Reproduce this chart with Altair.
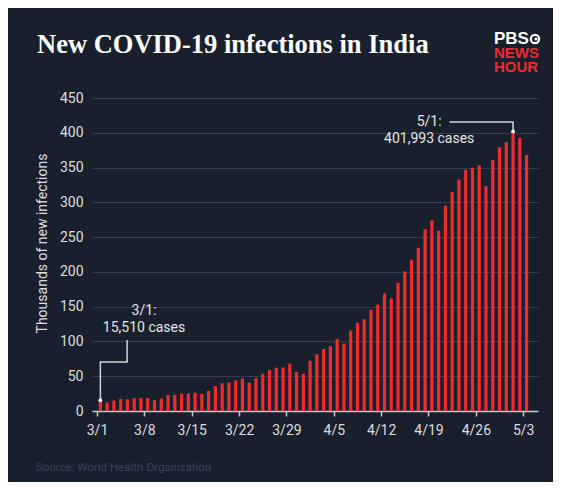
import altair as alt
import pandas as pd

# Daily new infections in India (thousands), 3/1 .. 5/3
values = [15.51, 12.29, 14.99, 17.41, 16.84, 18.33, 18.71, 18.60, 15.39, 17.92,
          22.85, 23.29, 24.88, 25.32, 26.29, 24.49, 28.90, 35.87, 39.73, 40.95,
          43.85, 46.95, 40.72, 47.26, 53.48, 59.12, 62.26, 62.71, 68.02, 56.21, 53.48,
          72.33, 81.47, 89.13, 93.25, 103.56, 96.98, 115.74, 126.79, 131.97, 145.38,
          152.88, 168.91, 161.74, 184.37, 200.74, 217.35, 234.69, 261.50, 273.81, 259.17,
          295.04, 314.84, 332.73, 346.79, 349.69, 352.99, 323.14, 360.96, 379.26, 386.45,
          401.99, 392.49, 368.15]
tick_days = [0, 7, 14, 21, 28, 35, 42, 49, 56, 63]
tick_labels = ["3/1", "3/8", "3/15", "3/22", "3/29", "4/5", "4/12", "4/19", "4/26", "5/3"]
y_ticks = [0, 50, 100, 150, 200, 250, 300, 350, 400, 450]

# annotations (data coordinates)
ann_days = [0, 61]
ann_vals = [15.51, 401.99]
ann_text_x = [6.95, 6.95, 49.1, 49.1]
ann_text_y = [144, 119, 415.4, 390.6]
ann_text = ["3/1:", "15,510 cases", "5/1:", "401,993 cases"]
lead_g = ["a", "a", "a", "a", "b", "b", "b"]
lead_x = [0.5, 0.5, 4.45, 4.45, 52.1, 61.5, 61.5]
lead_y = [15.51, 70.4, 70.4, 102, 415.4, 415.4, 402]

BG = "#18202e"
RED = "#ef2b2d"
FG = "#dedede"
FONT = "Roboto"

df = pd.DataFrame({"d": [i + 0.5 for i in range(len(values))], "v": values})
dots = pd.DataFrame({"d": [d + 0.5 for d in ann_days], "v": ann_vals})
texts = pd.DataFrame({"d": ann_text_x, "v": ann_text_y, "t": ann_text})
leads = pd.DataFrame({"g": lead_g, "o": list(range(len(lead_g))), "d": lead_x, "v": lead_y})

label_expr = "[" + ",".join("'" + s + "'" for s in tick_labels) + "][round(datum.value/7)]"

xs = alt.Scale(domain=[0, 64.45], nice=False, zero=False)
ys = alt.Scale(domain=[0, 450], nice=False)
xaxis = alt.Axis(
    values=tick_days, labelExpr=label_expr, title=None, grid=False,
    domainColor="#c9c9c9", domainWidth=1.5, tickColor="#c9c9c9", tickWidth=1.5,
    tickSize=5, labelPadding=7, labelColor=FG, labelFontSize=14, labelFont=FONT)
yaxis = alt.Axis(
    values=y_ticks, title="Thousands of new infections", domain=False, ticks=False,
    gridColor="#363e4d", gridWidth=1, labelPadding=9, labelColor=FG,
    labelFontSize=14, labelFont=FONT, titleColor=FG, titleFontSize=14,
    titleFont=FONT, titleFontWeight="normal", titlePadding=10, titleY=145,
    labelOverlap=False)
X = alt.X("d:Q", scale=xs, axis=xaxis)
Y = alt.Y("v:Q", scale=ys, axis=yaxis)

bars = alt.Chart(df).mark_bar(color=RED, size=3.2).encode(x=X, y=Y)

lines = alt.Chart(leads).mark_line(color="#d4d4d4", strokeWidth=1.5).encode(
    x=X, y=Y, detail="g:N", order="o:Q")

pts = alt.Chart(dots).mark_point(filled=True, color="white", size=14, opacity=1).encode(
    x=X, y=Y)

labels = alt.Chart(texts).mark_text(color="#e4e4e4", fontSize=14, font=FONT,
                                    align="center", baseline="middle").encode(
    x=X, y=Y, text="t:N")

logo_lines = ["PBS", "NEWS", "HOUR"]
logo_colors = ["white", "#ee2a2f", "#ee2a2f"]
logo_y = [-54, -39.7, -25.7]
logo_size = [17, 15, 15]
logo_df = pd.DataFrame({"t": logo_lines, "c": logo_colors, "y": logo_y, "s": logo_size})
logo = alt.Chart(logo_df).mark_text(font="Liberation Sans", fontWeight="bold",
                                    align="left", baseline="alphabetic").encode(
    x=alt.value(402), y=alt.Y("y:Q", scale=None), text="t:N",
    size=alt.Size("s:Q", scale=None), color=alt.Color("c:N", scale=None))
ring = alt.Chart(pd.DataFrame({"a": [1]})).mark_point(
    shape="circle", filled=False, color="white", strokeWidth=2.2, size=70, opacity=1).encode(
    x=alt.value(443), y=alt.value(-59))
ring_in = alt.Chart(pd.DataFrame({"a": [1]})).mark_point(
    shape="circle", filled=True, color="white", size=10, opacity=1).encode(
    x=alt.value(444), y=alt.value(-59))

title = alt.Chart(pd.DataFrame({"t": ["New COVID-19 infections in India"]})).mark_text(
    font="Liberation Serif", fontSize=26.5, fontWeight="bold", color="white",
    align="left", baseline="alphabetic").encode(
    x=alt.value(-55), y=alt.value(-45), text="t:N")

source = alt.Chart(pd.DataFrame({"t": ["Source: World Health Organization"]})).mark_text(
    font=FONT, fontSize=11.5, color="#3a4456", align="left", baseline="middle").encode(
    x=alt.value(-56), y=alt.value(370), text="t:N")

chart = alt.layer(bars, lines, pts, labels, logo, ring, ring_in, title, source).properties(
    width=446, height=313,
    autosize="none",
    padding={"left": 84, "top": 90, "right": 15, "bottom": 71},
    background=BG,
).configure_view(stroke=None)

chart.save("out.html", embed_options={"renderer": "svg", "actions": False})
